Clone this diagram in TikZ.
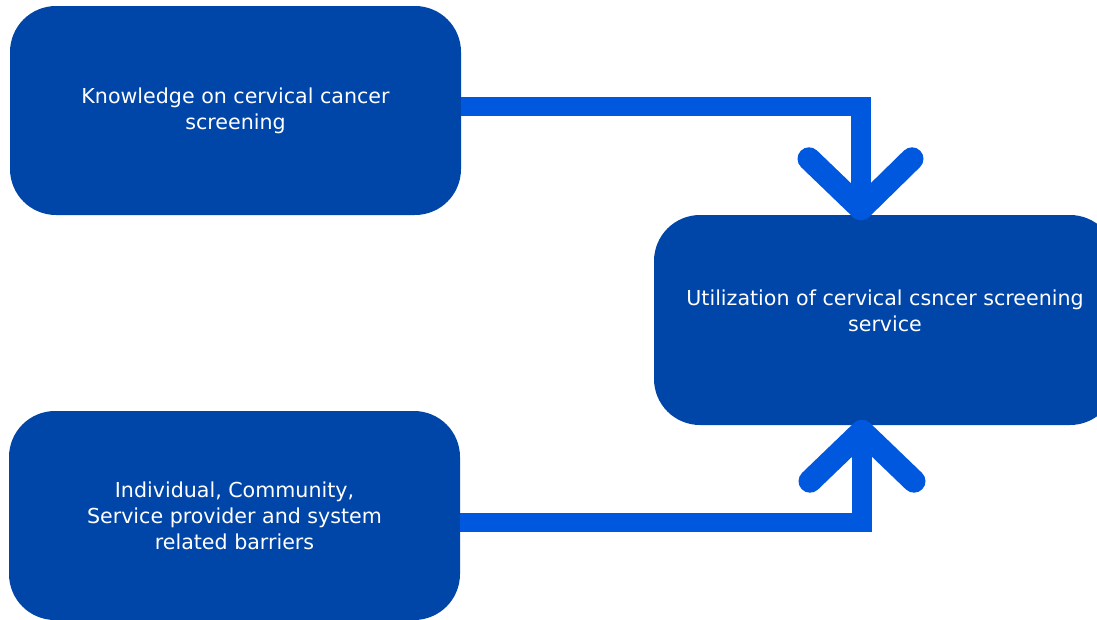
\documentclass[tikz,border=0pt]{standalone}
\usepackage{fontspec}
\setmainfont{DejaVu Sans}
\definecolor{boxblue}{HTML}{0046A8}
\definecolor{arrowblue}{HTML}{0058DE}
\begin{document}
\begin{tikzpicture}[x=1pt,y=-1pt,
  block/.style={fill=boxblue, rounded corners=46pt, minimum width=451pt,
    minimum height=209pt, inner sep=0pt, text=white, align=center,
    font=\fontsize{20.6}{26}\selectfont},
  caption/.style={text=white, align=center, inner sep=0pt,
    font=\fontsize{20.6}{26}\selectfont},
  link/.style={draw=arrowblue, line width=19.5pt},
  chevron/.style={draw=arrowblue, line width=23pt, line cap=round, line join=round}]
\useasboundingbox (0,0) rectangle (1097,619);
\begin{scope}
\clip (0,0) rectangle (1097,619);
% the three blocks
\node[block] (k) at (235.5,110.5) {Knowledge on cervical cancer\\screening};
\node[block] (b) at (234.5,515.5) {Individual, Community,\\Service provider and system\\related barriers};
\node[block, minimum width=462pt, minimum height=210pt] (u) at (885,320) {};
\node[caption] (ut) at (885,311) {Utilization of cervical csncer screening\\service};
% connector from the knowledge block
\coordinate (tip1) at ([xshift=-24pt,yshift=6pt]u.north);
\draw[link] ([yshift=4pt]k.east) -| (tip1);
\draw[chevron] (tip1) ++(-52,-50) -- (tip1) -- ++(51,-50);
% connector from the barriers block
\coordinate (tip2) at ([xshift=-23pt,yshift=-6pt]u.south);
\draw[link] ([yshift=-7pt]b.east) -| (tip2);
\draw[chevron] (tip2) ++(-52,50) -- (tip2) -- ++(52,50);
\end{scope}
\end{tikzpicture}
\end{document}
